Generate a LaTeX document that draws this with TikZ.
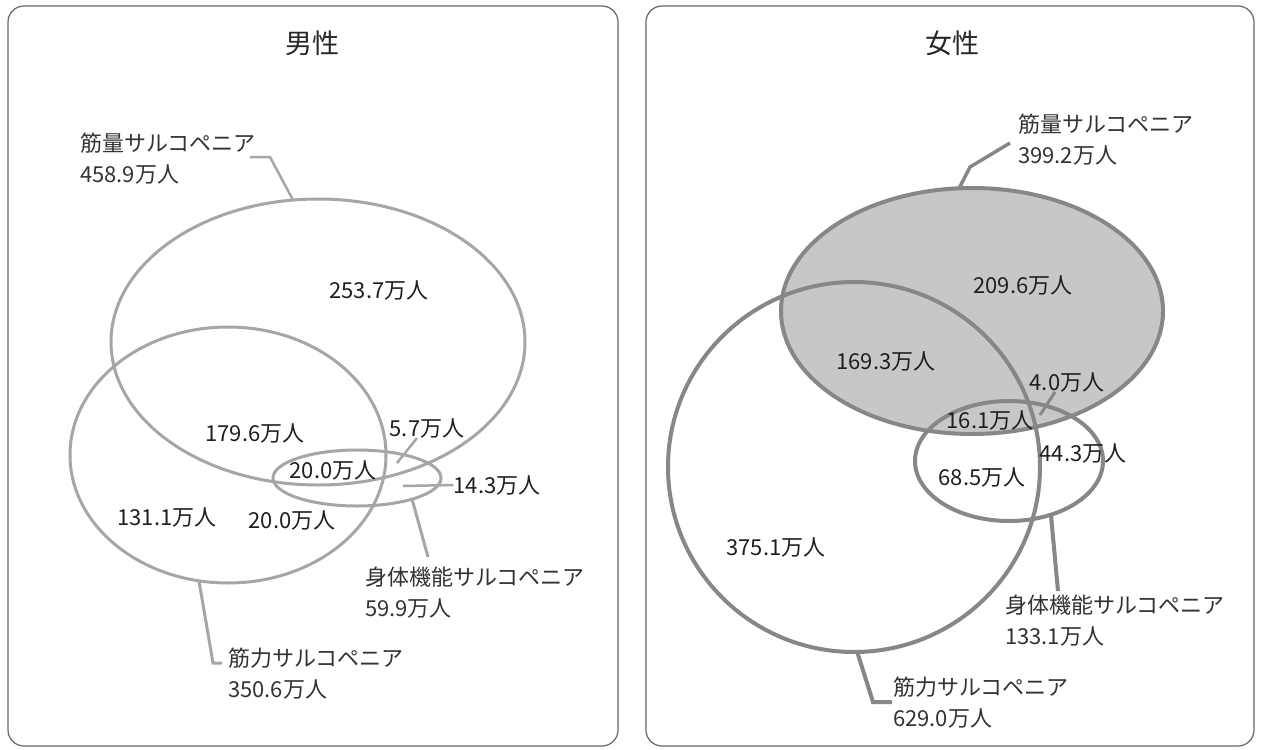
\documentclass[tikz,border=0pt]{standalone}
\usepackage{fontspec}
\setmainfont{Noto Sans CJK JP}
\usetikzlibrary{shapes.geometric}
\begin{document}
\begin{tikzpicture}[x=1pt,y=-1pt,
  panel/.style={draw=black!60, line width=1.2pt, rounded corners=16pt, inner sep=0pt, outer sep=0pt},
  lline/.style={draw=black!35, line width=3pt},
  rline/.style={draw=black!47, line width=4pt},
  venn/.style={ellipse, inner sep=0pt, outer sep=0pt},
  num/.style={inner sep=0pt, font=\fontsize{22}{26}\selectfont, text=black!88},
  lab/.style={inner sep=0pt, anchor=west, align=left, font=\fontsize{22}{31}\selectfont, text=black!80},
  ttl/.style={inner sep=0pt, font=\fontsize{27}{30}\selectfont, text=black!85},
]
\useasboundingbox (0,0) rectangle (1262,750);
\fill[white] (0,0) rectangle (1262,750);

% panels
\node[panel, minimum width=610pt, minimum height=740pt] (panelL) at (313,376) {};
\node[panel, minimum width=608pt, minimum height=740pt] (panelR) at (950,376) {};

% ---------- left: men ----------
\node[ttl] (tL) at (312,43) {男性};
\node[venn, lline, minimum width=414pt, minimum height=286pt] (mL) at (318,342) {};
\node[venn, lline, minimum width=316pt, minimum height=256pt] (sL) at (228,455) {};
\node[venn, lline, minimum width=168pt, minimum height=56pt] (pL) at (357,478) {};

\node[num] (a1) at (379,290) {253.7万人};
\node[num] (a2) at (255,433) {179.6万人};
\node[num] (a3) at (427,428) {5.7万人};
\node[num] (a4) at (333,470) {20.0万人};
\node[num] (a5) at (497,485) {14.3万人};
\node[num] (a6) at (292,520) {20.0万人};
\node[num] (a7) at (167,517) {131.1万人};

\node[lab] (lmL) at (80,159) {筋量サルコペニア\\458.9万人};
\node[lab] (lsL) at (228,674) {筋力サルコペニア\\350.6万人};
\node[lab] (lpL) at (365,593) {身体機能サルコペニア\\59.9万人};

\coordinate (kmL) at (270,157);
\coordinate (emL) at (250,157);
\draw[lline, line width=2.5pt] (mL.100) -- (kmL) -- (emL);
\coordinate (ksL) at (213,663);
\coordinate (esL) at (222,663);
\draw[lline] (sL.-103) -- (ksL) -- (esL);
\coordinate (epL) at (428,557);
\draw[lline] (pL.-21) -- (epL);
\coordinate (s143) at (403,486);
\draw[lline, line width=2.5pt] (s143) -- (a5.west);
\coordinate (s57) at (397,463);
\draw[lline, line width=2.5pt] ([xshift=-10pt]a3.south) -- (s57);

% ---------- right: women ----------
\node[ttl] (tR) at (952,43) {女性};
\node[venn, rline, fill=black!22, minimum width=382pt, minimum height=246pt] (mR) at (972,311) {};
\node[venn, rline, minimum width=372pt, minimum height=370pt] (sR) at (854,467) {};
\node[venn, rline, minimum width=188pt, minimum height=120pt] (pR) at (1009,461) {};

\node[num] (b1) at (1023,285) {209.6万人};
\node[num] (b2) at (886,361) {169.3万人};
\node[num] (b3) at (1067,382) {4.0万人};
\node[num] (b4) at (990,420) {16.1万人};
\node[num] (b5) at (1083,453) {44.3万人};
\node[num] (b6) at (982,477) {68.5万人};
\node[num] (b7) at (776,547) {375.1万人};

\node[lab] (lmR) at (1018,140) {筋量サルコペニア\\399.2万人};
\node[lab] (lpR) at (1005,621) {身体機能サルコペニア\\133.1万人};
\node[lab] (lsR) at (893,703) {筋力サルコペニア\\629.0万人};

\coordinate (kmR) at (970,167);
\coordinate (emR) at (1010,143);
\draw[rline, line width=3.5pt] (mR.96) -- (kmR) -- (emR);
\coordinate (epR) at (1058,591);
\draw[rline] (pR.-52) -- (epR);
\coordinate (ksR) at (873,702);
\coordinate (esR) at (892,702);
\draw[rline] (sR.-89) -- (ksR) -- (esR);
\coordinate (s40) at (1040,415);
\draw[rline, line width=3pt] ([xshift=-12pt]b3.south) -- (s40);
\end{tikzpicture}
\end{document}
